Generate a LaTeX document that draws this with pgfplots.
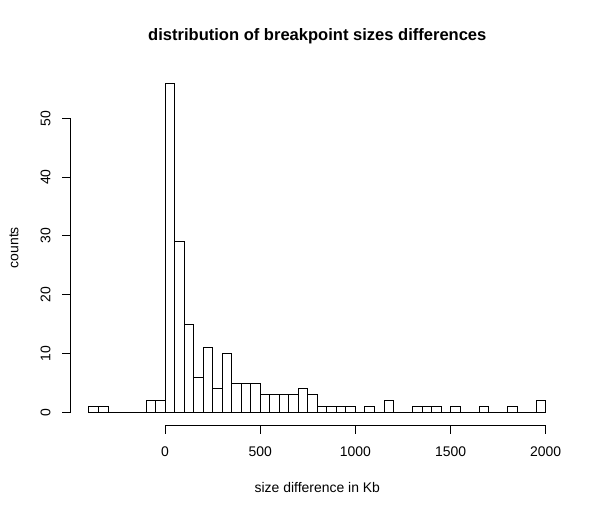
\documentclass[border=0pt]{standalone}
\usepackage{fontspec}
\setmainfont{Liberation Sans}
\usepackage{pgfplots}
\pgfplotsset{compat=1.18}

\begin{document}
\begin{tikzpicture}
  \begin{axis}[
    scale only axis,
    width=493.4bp, height=355.7bp,
    xmin=-496, xmax=2096,
    ymin=-2.24, ymax=58.24,
    hide axis,
    clip=false,
  ]
    % histogram, bins of 50 Kb
    \addplot[ybar interval, draw=black, fill=white, line width=0.8bp] coordinates {
      (-400,1) (-350,1) (-300,0) (-250,0) (-200,0) (-150,0) (-100,2) (-50,2)
      (0,56) (50,29) (100,15) (150,6) (200,11) (250,4) (300,10) (350,5)
      (400,5) (450,5) (500,3) (550,3) (600,3) (650,3) (700,4) (750,3)
      (800,1) (850,1) (900,1) (950,1) (1000,0) (1050,1) (1100,0) (1150,2)
      (1200,0) (1250,0) (1300,1) (1350,1) (1400,1) (1450,0) (1500,1) (1550,0)
      (1600,0) (1650,1) (1700,0) (1750,0) (1800,1) (1850,0) (1900,0) (1950,2)
      (2000,2)
    };
    % R-style axes
    \draw[line width=0.8bp] (axis cs:0,-2.24) -- (axis cs:2000,-2.24);
    \pgfplotsinvokeforeach{0,500,1000,1500,2000}{
      \draw[line width=0.8bp] (axis cs:#1,-2.24) -- ([yshift=-8.5bp]axis cs:#1,-2.24);
      \node[font=\fontsize{14}{16}\selectfont] at ([yshift=-26.2bp]axis cs:#1,-2.24) {#1};
    }
    \draw[line width=0.8bp] (axis cs:-496,0) -- (axis cs:-496,50);
    \pgfplotsinvokeforeach{0,10,20,30,40,50}{
      \draw[line width=0.8bp] (axis cs:-496,#1) -- ([xshift=-9bp]axis cs:-496,#1);
      \node[font=\fontsize{14}{16}\selectfont, rotate=90] at ([xshift=-25bp]axis cs:-496,#1) {#1};
    }
    \node[font=\fontsize{14}{16}\selectfont] at ([yshift=-61.8bp]rel axis cs:0.5,0) {size difference in Kb};
    \node[font=\fontsize{14}{16}\selectfont, rotate=90] at ([xshift=-56.6bp]rel axis cs:0,0.5) {counts};
    \node[font=\fontsize{16.6}{19}\selectfont\bfseries, anchor=base] at ([yshift=28.8bp]rel axis cs:0.5,1) {distribution of breakpoint sizes differences};
    \coordinate (bl) at (rel axis cs:0,0);
    \coordinate (tr) at (rel axis cs:1,1);
  \end{axis}
  \useasboundingbox ([shift={(-70.6bp,-88.5bp)}]bl) rectangle ([shift={(36bp,69.8bp)}]tr);
\end{tikzpicture}
\end{document}
